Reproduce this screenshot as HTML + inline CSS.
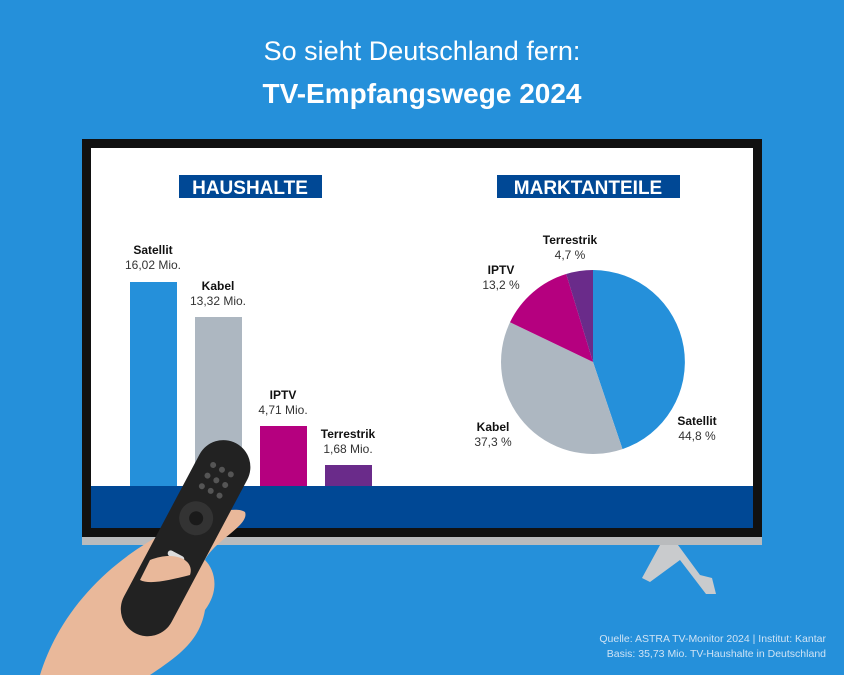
<!DOCTYPE html>
<html><head><meta charset="utf-8"><style>
body{margin:0;width:844px;height:675px;background:#2590da;overflow:hidden;font-family:"Liberation Sans",sans-serif;}
</style></head><body>
<svg width="844" height="675" xmlns="http://www.w3.org/2000/svg" style="position:absolute;left:0;top:0">
<rect width="844" height="675" fill="#2590da"/>
<text x="422" y="60" text-anchor="middle" fill="#fff" font-size="27" font-family="Liberation Sans">So sieht Deutschland fern:</text>
<text x="422" y="103" text-anchor="middle" fill="#fff" font-size="28" font-weight="bold" font-family="Liberation Sans">TV-Empfangswege 2024</text>
<!-- stand -->
<path d="M660 545 L678 545 L700 575 L712 578 L716 594 L706 594 L680 560 L650 582 L642 578 Z" fill="#c9cbcd"/>
<!-- TV -->
<rect x="82" y="139" width="680" height="400" fill="#111"/>
<rect x="82" y="537" width="680" height="8" fill="#b9bbbd"/>
<rect x="91" y="148" width="662" height="380" fill="#fff"/>
<rect x="91" y="486" width="662" height="42" fill="#004895"/>
<!-- headers -->
<rect x="179" y="175" width="143" height="23" fill="#004895"/>
<text x="250" y="194" text-anchor="middle" fill="#fff" font-size="19" font-weight="bold">HAUSHALTE</text>
<rect x="497" y="175" width="183" height="23" fill="#004895"/>
<text x="588" y="194" text-anchor="middle" fill="#fff" font-size="19" font-weight="bold">MARKTANTEILE</text>
<!-- bars -->
<rect x="130" y="282" width="47" height="204" fill="#2590da"/>
<rect x="195" y="317" width="47" height="169" fill="#adb7c1"/>
<rect x="260" y="426" width="47" height="60" fill="#b5007f"/>
<rect x="325" y="465" width="47" height="21" fill="#6a2b8a"/>
<g font-size="12" fill="#111" text-anchor="middle">
<text x="153" y="254" font-weight="bold">Satellit</text><text x="153" y="269" fill="#333">16,02 Mio.</text>
<text x="218" y="290" font-weight="bold">Kabel</text><text x="218" y="305" fill="#333">13,32 Mio.</text>
<text x="283" y="399" font-weight="bold">IPTV</text><text x="283" y="414" fill="#333">4,71 Mio.</text>
<text x="348" y="438" font-weight="bold">Terrestrik</text><text x="348" y="453" fill="#333">1,68 Mio.</text>
</g>
<!-- pie -->
<path d="M593 362 L593 270 A92 92 0 0 1 622.5 449.1 Z" fill="#2590da"/>
<path d="M593 362 L622.5 449.1 A92 92 0 0 1 510 322.3 Z" fill="#adb7c1"/>
<path d="M593 362 L510 322.3 A92 92 0 0 1 566.2 274 Z" fill="#b5007f"/>
<path d="M593 362 L566.2 274 A92 92 0 0 1 593 270 Z" fill="#6a2b8a"/>
<g font-size="12" fill="#111" text-anchor="middle">
<text x="570" y="244" font-weight="bold">Terrestrik</text><text x="570" y="259" fill="#333">4,7 %</text>
<text x="501" y="274" font-weight="bold">IPTV</text><text x="501" y="289" fill="#333">13,2 %</text>
<text x="493" y="431" font-weight="bold">Kabel</text><text x="493" y="446" fill="#333">37,3 %</text>
<text x="697" y="425" font-weight="bold">Satellit</text><text x="697" y="440" fill="#333">44,8 %</text>
</g>
<!-- hand -->
<path d="M40 675 C60 610 110 560 170 530 C200 515 235 505 245 512 C250 525 215 540 205 560 C215 570 220 590 205 610 C200 640 180 655 150 675 Z" fill="#e9b89a"/>
<!-- remote -->
<g transform="rotate(28 185 535)">
<rect x="160" y="430" width="54" height="215" rx="27" fill="#222"/>
<circle cx="187" cy="515" r="17" fill="#333"/>
<circle cx="187" cy="515" r="7" fill="#1a1a1a"/>
<g fill="#555"><circle cx="177" cy="460" r="3"/><circle cx="187" cy="460" r="3"/><circle cx="197" cy="460" r="3"/><circle cx="177" cy="472" r="3"/><circle cx="187" cy="472" r="3"/><circle cx="197" cy="472" r="3"/><circle cx="177" cy="484" r="3"/><circle cx="187" cy="484" r="3"/><circle cx="197" cy="484" r="3"/></g>
<rect x="178" y="555" width="18" height="6" rx="3" fill="#ddd"/>
</g>
<path d="M150 560 C175 550 195 560 190 575 C170 580 150 585 140 580 Z" fill="#e9b89a"/>
<!-- source -->
<text x="826" y="642" text-anchor="end" fill="#cfe3f5" font-size="10.5">Quelle: ASTRA TV-Monitor 2024 | Institut: Kantar</text>
<text x="826" y="657" text-anchor="end" fill="#cfe3f5" font-size="10.5">Basis: 35,73 Mio. TV-Haushalte in Deutschland</text>
</svg>
</body></html>
